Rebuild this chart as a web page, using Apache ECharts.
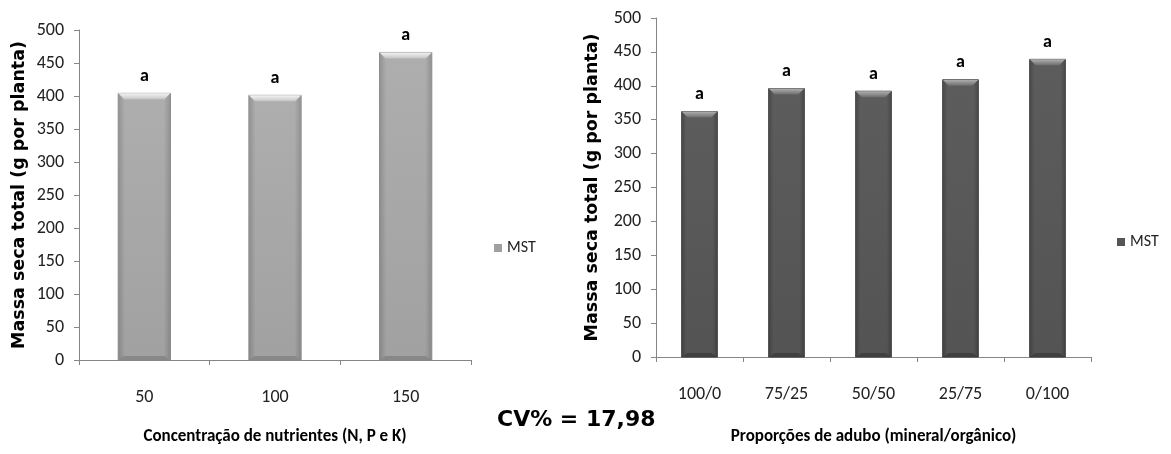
<!DOCTYPE html>
<html>
<head>
<meta charset="utf-8">
<script src="https://cdn.jsdelivr.net/npm/echarts@6/dist/echarts.min.js"></script>
<style>
  html, body { margin: 0; padding: 0; background: #ffffff; }
  #chart { width: 1171px; height: 454px; }
</style>
</head>
<body>
<div id="chart"></div>
<script>
// Massa seca total (MST) por concentração de nutrientes
const nutrientCategories = ['50', '100', '150'];
const nutrientValues = [404, 401, 466];
const nutrientLetters = ['a', 'a', 'a'];

// MST por proporção de adubo mineral/orgânico
const aduboCategories = ['100/0', '75/25', '50/50', '25/75', '0/100'];
const aduboValues = [362, 396, 392, 409, 439];
const aduboLetters = ['a', 'a', 'a', 'a', 'a'];

const yTicks = { min: 0, max: 500, interval: 50 };
const cvText = 'CV% = 17,98';

const tickFont = 'Carlito, "Liberation Sans Narrow", "Liberation Sans", sans-serif';
const letterFont = 'Carlito, "Liberation Sans", sans-serif';
const titleFont = '"DejaVu Sans", Verdana, sans-serif';

// Beveled column drawn from the axis scales
function bevelBar(palette, widthRatio, letters) {
  return function (params, api) {
    const idx = params.dataIndex;
    const top = api.coord([api.value(0), api.value(1)]);
    const base = api.coord([api.value(0), 0]);
    const bw = api.size([1, 0])[0] * widthRatio;
    const x0 = top[0] - bw / 2, x1 = top[0] + bw / 2;
    const y0 = top[1], y1 = base[1];
    const b = 6;
    const sideGrad = new echarts.graphic.LinearGradient(0, 0, 1, 0, [
      { offset: 0, color: palette.edge },
      { offset: 0.12, color: palette.mid },
      { offset: 0.88, color: palette.mid },
      { offset: 1, color: palette.edge }
    ]);
    const bodyGrad = new echarts.graphic.LinearGradient(0, 0, 0, 1, [
      { offset: 0, color: palette.top },
      { offset: 1, color: palette.bottom }
    ]);
    return {
      type: 'group',
      children: [
        { type: 'rect', shape: { x: x0, y: y0, width: bw, height: y1 - y0 },
          style: { fill: bodyGrad, stroke: palette.stroke, lineWidth: 1 } },
        { type: 'rect', shape: { x: x0 + 0.5, y: y0, width: bw - 1, height: y1 - y0 },
          style: { fill: sideGrad, opacity: 0.55 } },
        { type: 'polygon', shape: { points: [[x0, y0], [x1, y0], [x1 - b, y0 + b], [x0 + b, y0 + b]] },
          style: { fill: new echarts.graphic.LinearGradient(0, 0, 0, 1, [
            { offset: 0, color: palette.capTop }, { offset: 1, color: palette.capBottom }]) } },
        { type: 'polygon', shape: { points: [[x0, y1], [x1, y1], [x1 - b, y1 - b + 2], [x0 + b, y1 - b + 2]] },
          style: { fill: palette.base } },
        { type: 'text', style: {
            text: letters[idx], x: top[0], y: y0 - 8,
            align: 'center', verticalAlign: 'bottom',
            font: 'bold 18px ' + letterFont, fill: '#000000' } }
      ]
    };
  };
}

const lightPalette = { top: '#b1b1b1', bottom: '#959595', mid: '#ababab', edge: '#7d7d7d',
  stroke: '#8a8a8a', capTop: '#f4f4f4', capBottom: '#c4c4c4', base: '#888888' };
const darkPalette = { top: '#5f5f5f', bottom: '#4c4c4c', mid: '#5a5a5a', edge: '#3a3a3a',
  stroke: '#3f3f3f', capTop: '#b0b0b0', capBottom: '#6e6e6e', base: '#404040' };

function valueAxis(gridIndex, nameGap) {
  return {
    type: 'value', gridIndex, min: yTicks.min, max: yTicks.max, interval: yTicks.interval,
    name: 'Massa seca total (g por planta)', nameLocation: 'middle', nameGap,
    nameTextStyle: { fontFamily: titleFont, fontWeight: 'bold', fontSize: 17.5, color: '#000' },
    axisLine: { show: true, lineStyle: { color: '#868686', width: 1 } },
    axisTick: { show: true, length: 5, lineStyle: { color: '#868686' } },
    axisLabel: { fontFamily: tickFont, fontSize: 18, color: '#222', margin: 15 },
    splitLine: { show: false }
  };
}

function categoryAxis(gridIndex, data, name, nameGap) {
  return {
    type: 'category', gridIndex, data, boundaryGap: true,
    name, nameLocation: 'middle', nameGap,
    nameTextStyle: { fontFamily: tickFont, fontWeight: 'bold', fontSize: 17, color: '#000' },
    axisLine: { show: true, lineStyle: { color: '#868686', width: 1 } },
    axisTick: { show: true, length: 5, alignWithLabel: false, lineStyle: { color: '#868686' } },
    axisLabel: { fontFamily: tickFont, fontSize: 18, color: '#222', margin: 28 }
  };
}

const chart = echarts.init(document.getElementById('chart'), null, { renderer: 'canvas' });

chart.setOption({
  backgroundColor: '#ffffff',
  animation: false,
  grid: [
    { left: 79, top: 30, width: 392, height: 330 },
    { left: 656, top: 18, width: 435, height: 339 }
  ],
  xAxis: [
    categoryAxis(0, nutrientCategories, 'Concentração de nutrientes (N, P e K)', 68),
    categoryAxis(1, aduboCategories, 'Proporções de adubo (mineral/orgânico)', 71)
  ],
  yAxis: [valueAxis(0, 51), valueAxis(1, 55)],
  legend: [
    { data: ['MST'], left: 489, top: 235, orient: 'vertical', icon: 'rect',
      itemWidth: 8, itemHeight: 8, itemGap: 4, selectedMode: false,
      textStyle: { fontFamily: tickFont, fontSize: 16, color: '#222' } },
    { data: ['MST\u2009'], left: 1112, top: 229, orient: 'vertical', icon: 'rect',
      itemWidth: 8, itemHeight: 8, itemGap: 4, selectedMode: false,
      formatter: function (n) { return n.trim(); },
      textStyle: { fontFamily: tickFont, fontSize: 16, color: '#222' } }
  ],
  graphic: [
    { type: 'text', left: 497, top: 409,
      style: { text: cvText, font: 'bold 22px ' + titleFont, fill: '#000' } }
  ],
  series: [
    { type: 'custom', name: 'MST', xAxisIndex: 0, yAxisIndex: 0,
      itemStyle: { color: '#a0a0a0' },
      renderItem: bevelBar(lightPalette, 0.40, nutrientLetters),
      data: nutrientValues.map((v, i) => [i, v]) },
    { type: 'custom', name: 'MST\u2009', xAxisIndex: 1, yAxisIndex: 1,
      itemStyle: { color: '#555555' },
      renderItem: bevelBar(darkPalette, 0.41, aduboLetters),
      data: aduboValues.map((v, i) => [i, v]) }
  ]
});
</script>
</body>
</html>
